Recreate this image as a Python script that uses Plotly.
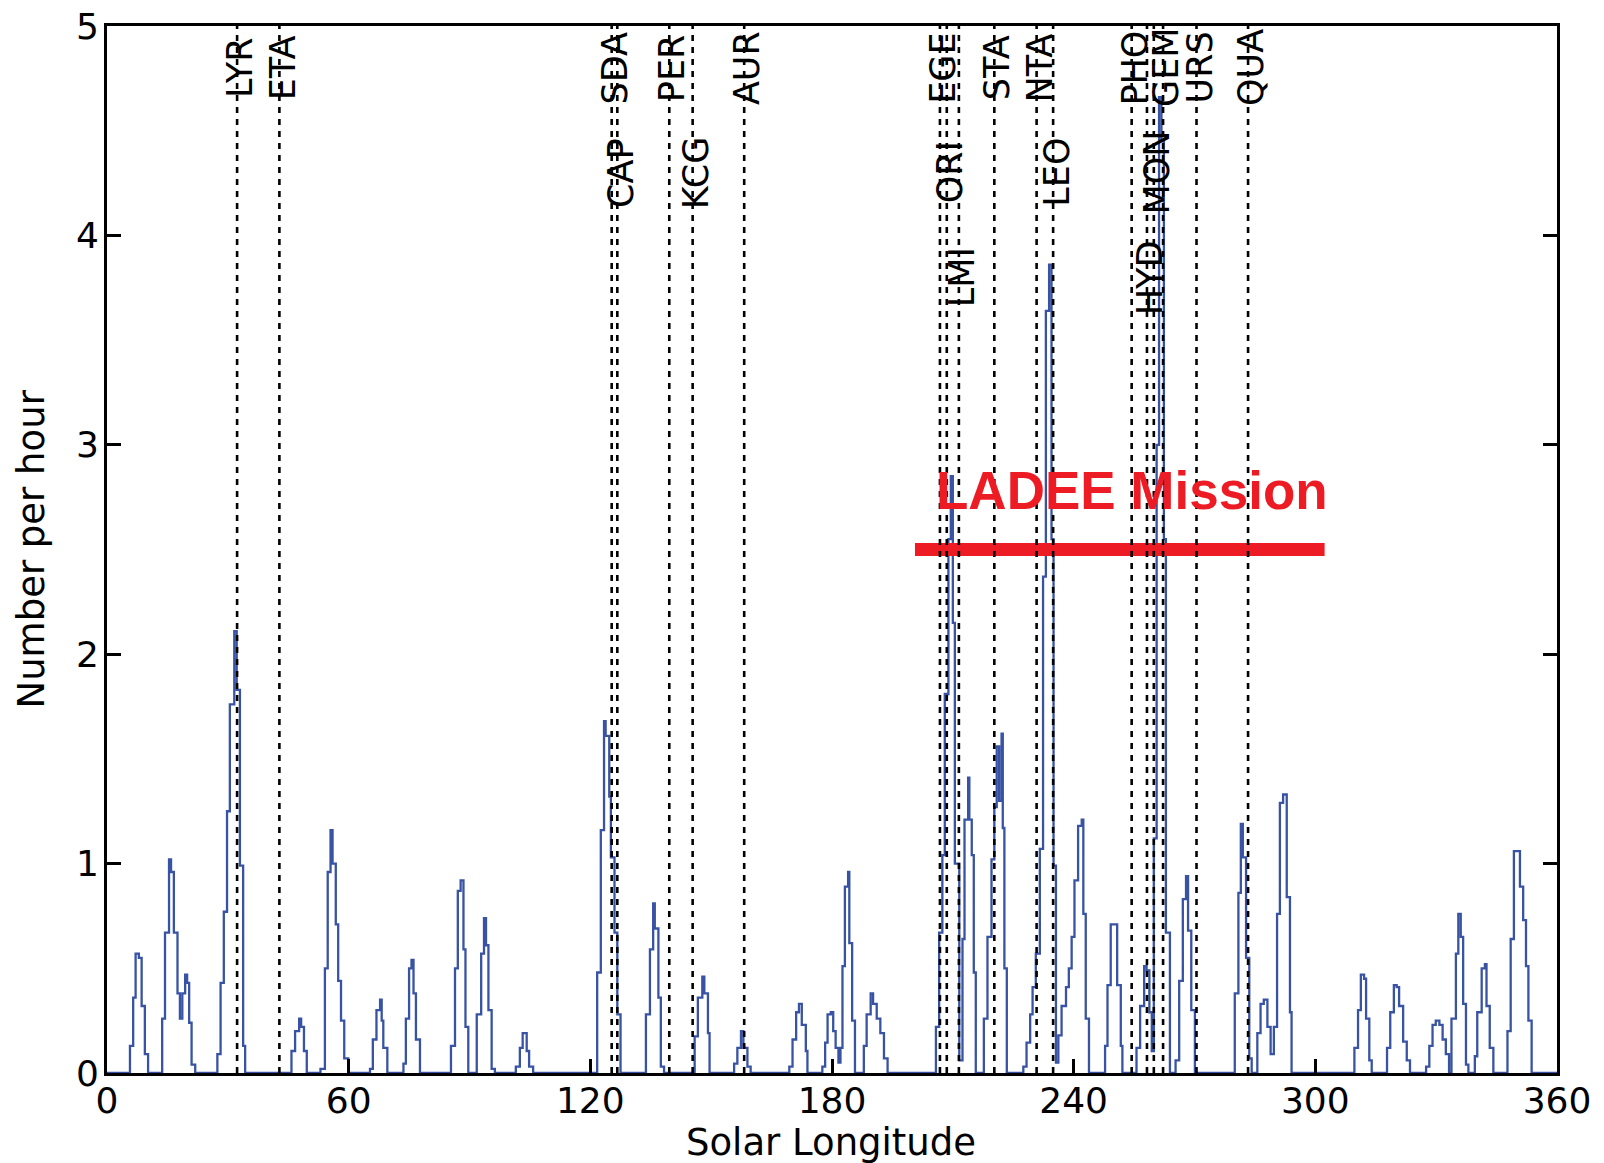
import plotly.graph_objects as go

# ---- data ----
longitude = [
    0, 5.7, 6.5, 7.1, 7.9, 8.6, 9.4, 10.2,
    13.7, 14.4, 15.4, 15.9, 16.6, 17.5, 18.1, 18.7, 19.4, 19.9, 20.4, 21.0, 21.9,
    27.4, 28.2, 29.0, 29.8, 30.5, 31.6, 32.2, 33.0, 33.8, 34.3,
    45.8, 46.7, 47.7, 48.2, 48.9, 49.6,
    53.0, 54.1, 54.8, 55.5, 56.0, 56.8, 57.4, 58.1, 58.9, 59.9,
    65.3, 66.0, 66.9, 67.8, 68.2, 68.6, 69.6,
    73.6, 74.2, 75.0, 75.6, 76.1, 76.7, 77.7,
    85.4, 86.4, 87.1, 87.8, 88.5, 89.0, 89.7,
    91.8, 92.9, 93.6, 94.1, 94.7, 95.5, 96.3,
    101.5, 102.5, 103.2, 104.2, 104.8, 105.8,
    121.7, 122.6, 123.4, 123.8, 124.7, 125.1, 126.0, 126.7, 127.5,
    133.8, 134.8, 135.6, 136.0, 136.9, 137.5, 138.3,
    145.9, 146.7, 147.8, 148.3, 149.2, 149.6,
    155.7, 156.5, 157.4, 158.0, 159.0, 159.8,
    169.4, 170.2, 171.1, 171.8, 172.5, 173.5, 173.9,
    177.6, 178.3, 178.9, 179.7, 180.3, 180.9, 181.6, 182.1, 182.6, 183.2, 184.0, 184.3, 185.0, 185.7,
    187.9, 188.6, 189.6, 190.2, 191.1, 192.0, 192.9, 193.8,
    205.8, 206.6, 207.4, 208.0, 208.9, 209.5, 210.0, 210.5, 211.6, 212.4, 212.9, 213.8, 214.1, 214.7, 215.2, 215.7,
    217.7, 218.6, 219.6, 220.3, 220.9, 221.5, 222.1, 222.4, 222.8, 223.4,
    227.5, 228.3, 229.2, 229.8, 230.6, 231.6, 232.4, 233.1, 233.9, 234.5, 235.0, 235.6, 236.2,
    237.0, 238.1, 238.8, 239.5, 240.2, 241.1, 242.0, 242.4, 243.0, 243.8,
    247.8, 248.4, 249.2, 250.3, 250.8, 251.7, 252.1,
    255.6, 256.5, 257.5, 258.1, 258.8, 259.4, 259.9, 260.6, 261.2, 261.8, 262.4, 262.9, 263.9,
    265.3, 266.2, 267.1, 267.9, 268.4, 269.2, 270.1,
    280.0, 280.9, 281.5, 282.0, 282.8, 283.6, 284.2,
    285.6, 286.4, 287.2, 288.1, 288.9, 289.7, 290.5, 291.2, 292.0, 292.9, 293.7, 294.1,
    309.7, 310.6, 311.3, 312.1, 312.6, 313.4, 314.0,
    317.8, 318.6, 319.5, 320.2, 320.8, 321.8, 322.7, 323.5,
    327.5, 328.3, 329.1, 329.9, 330.8, 331.6, 332.4, 333.2,
    333.8, 334.9, 335.5, 336.1, 336.7, 337.4, 338.0,
    339.6, 340.2, 341.3, 342.1, 342.5, 343.3, 344.2,
    347.7, 348.5, 349.3, 350.4, 350.8, 351.6, 352.3, 352.9, 353.7,
    360,
]
rate = [
    0, 0.13, 0.36, 0.57, 0.55, 0.32, 0.09, 0,
    0.26, 0.67, 1.02, 0.96, 0.67, 0.38, 0.26, 0.38, 0.47, 0.43, 0.24, 0.04, 0,
    0.09, 0.43, 0.77, 1.25, 1.76, 2.11, 1.83, 0.99, 0.13, 0,
    0.105, 0.20, 0.26, 0.22, 0.105, 0,
    0.02, 0.50, 0.96, 1.16, 1.00, 0.71, 0.44, 0.25, 0.07, 0,
    0.02, 0.16, 0.30, 0.35, 0.25, 0.12, 0,
    0.045, 0.26, 0.50, 0.54, 0.38, 0.16, 0,
    0.13, 0.50, 0.87, 0.92, 0.59, 0.22, 0,
    0.28, 0.57, 0.74, 0.61, 0.30, 0.02, 0,
    0.03, 0.12, 0.19, 0.105, 0.03, 0,
    0.48, 1.16, 1.68, 1.61, 1.32, 1.03, 0.67, 0.28, 0,
    0.28, 0.59, 0.81, 0.69, 0.36, 0.03, 0,
    0.175, 0.36, 0.46, 0.38, 0.19, 0,
    0.045, 0.12, 0.20, 0.12, 0.03, 0,
    0.03, 0.16, 0.29, 0.33, 0.23, 0.105, 0,
    0.03, 0.145, 0.28, 0.29, 0.20, 0.12, 0.05, 0.12, 0.51, 0.89, 0.96, 0.62, 0.25, 0,
    0.13, 0.28, 0.38, 0.33, 0.26, 0.19, 0.07, 0,
    0.22, 0.67, 1.04, 1.81, 2.55, 2.85, 2.15, 1.00, 0.06, 0.64, 1.21, 1.41, 1.21, 1.04, 0.48, 0,
    0.26, 0.65, 1.02, 1.27, 1.56, 1.30, 1.62, 1.17, 0.50, 0,
    0.03, 0.145, 0.28, 0.41, 0.57, 1.07, 2.37, 3.64, 3.86, 2.55, 0.99, 0.05, 0.18,
    0.32, 0.41, 0.50, 0.65, 0.92, 1.18, 1.21, 0.76, 0.26, 0,
    0.13, 0.42, 0.71, 0.71, 0.42, 0.13, 0,
    0.12, 0.32, 0.51, 0.49, 0.29, 0.105, 1.12, 3.00, 4.66, 4.45, 2.55, 0.67, 0,
    0.06, 0.44, 0.83, 0.94, 0.68, 0.30, 0,
    0.38, 0.86, 1.19, 1.03, 0.55, 0.07, 0,
    0.19, 0.33, 0.35, 0.22, 0.09, 0.22, 0.76, 1.29, 1.33, 0.84, 0.29, 0,
    0.12, 0.30, 0.47, 0.45, 0.26, 0.06, 0,
    0.12, 0.29, 0.42, 0.41, 0.32, 0.15, 0.06, 0,
    0.03, 0.13, 0.23, 0.25, 0.23, 0.16, 0.09, 0,
    0.26, 0.57, 0.76, 0.65, 0.33, 0.04, 0,
    0.08, 0.29, 0.50, 0.52, 0.32, 0.12, 0,
    0.20, 0.64, 1.06, 1.06, 0.89, 0.73, 0.51, 0.25, 0,
    0,
]

shower_names = ["LYR", "ETA", "SDA", "CAP", "PER", "KCG", "AUR", "EGE", "ORI", "LMI",
                "STA", "NTA", "LEO", "PHO", "HYD", "MON", "GEM", "URS", "QUA"]
shower_lon = [32.3, 42.8, 125.3, 126.7, 139.6, 145.4, 158.2, 206.8, 208.5, 211.5,
              220.3, 230.8, 234.9, 254.4, 258.2, 259.9, 262.2, 270.5, 283.3]
label_rate = [4.8, 4.8, 4.8, 4.3, 4.8, 4.3, 4.8, 4.8, 4.3, 3.8,
              4.8, 4.8, 4.3, 4.8, 3.8, 4.3, 4.8, 4.8, 4.8]

mission_lon = [200.6, 302.3]
mission_rate = [2.5, 2.5]
mission_label = "LADEE Mission"

x_ticks = [0, 60, 120, 180, 240, 300, 360]
y_ticks = [0, 1, 2, 3, 4, 5]

# ---- figure ----
fig = go.Figure()

fig.add_trace(go.Scatter(
    x=longitude, y=rate, mode="lines", line_shape="hv",
    line=dict(color="#3953a4", width=2.3), showlegend=False, hoverinfo="skip",
))

fig.add_trace(go.Scatter(
    x=mission_lon, y=mission_rate, mode="lines",
    line=dict(color="#ed1c24", width=13), showlegend=False, hoverinfo="skip",
))

for lon in shower_lon:
    fig.add_shape(type="line", xref="x", yref="paper", x0=lon, x1=lon, y0=0, y1=1,
                  line=dict(color="black", width=2.6, dash="6px,6px"), layer="above")

for name, lon, yr in zip(shower_names, shower_lon, label_rate):
    fig.add_annotation(x=lon, y=yr, xref="x", yref="y", text=name, showarrow=False,
                       textangle=-90, xanchor="center", yanchor="middle", xshift=3,
                       font=dict(family="DejaVu Sans", size=35, color="black"))

fig.add_annotation(x=mission_lon[1], y=2.78, xref="x", yref="y", text="<b>%s</b>" % mission_label,
                   showarrow=False, xanchor="right", yanchor="middle", xshift=5,
                   font=dict(family="Liberation Sans", size=53, color="#ed1c24"))

fig.add_annotation(x=0.499, y=-0.066, xref="paper", yref="paper", text="Solar Longitude",
                   showarrow=False, xanchor="center", yanchor="middle",
                   font=dict(family="DejaVu Sans", size=37, color="black"))
fig.add_annotation(x=-0.0524, y=0.5, xref="paper", yref="paper", text="Number per hour",
                   showarrow=False, textangle=-90, xanchor="center", yanchor="middle",
                   font=dict(family="DejaVu Sans", size=37, color="black"))

axis_common = dict(showline=True, linecolor="black", linewidth=3, ticks="inside",
                   ticklen=14, tickwidth=2.5, tickcolor="black", showgrid=False,
                   zeroline=False, automargin=False,
                   tickfont=dict(family="DejaVu Sans", size=36, color="black"))

fig.update_xaxes(range=[0, 360], tickvals=x_ticks, mirror=True, ticklabelstandoff=-6, **axis_common)
fig.update_yaxes(range=[0, 5], tickvals=y_ticks, mirror="ticks", ticklabelstandoff=-2, **axis_common)

fig.update_layout(width=1604, height=1163, margin=dict(l=107, r=47, t=26, b=90),
                  plot_bgcolor="white", paper_bgcolor="white")

fig.write_html("out.html")
